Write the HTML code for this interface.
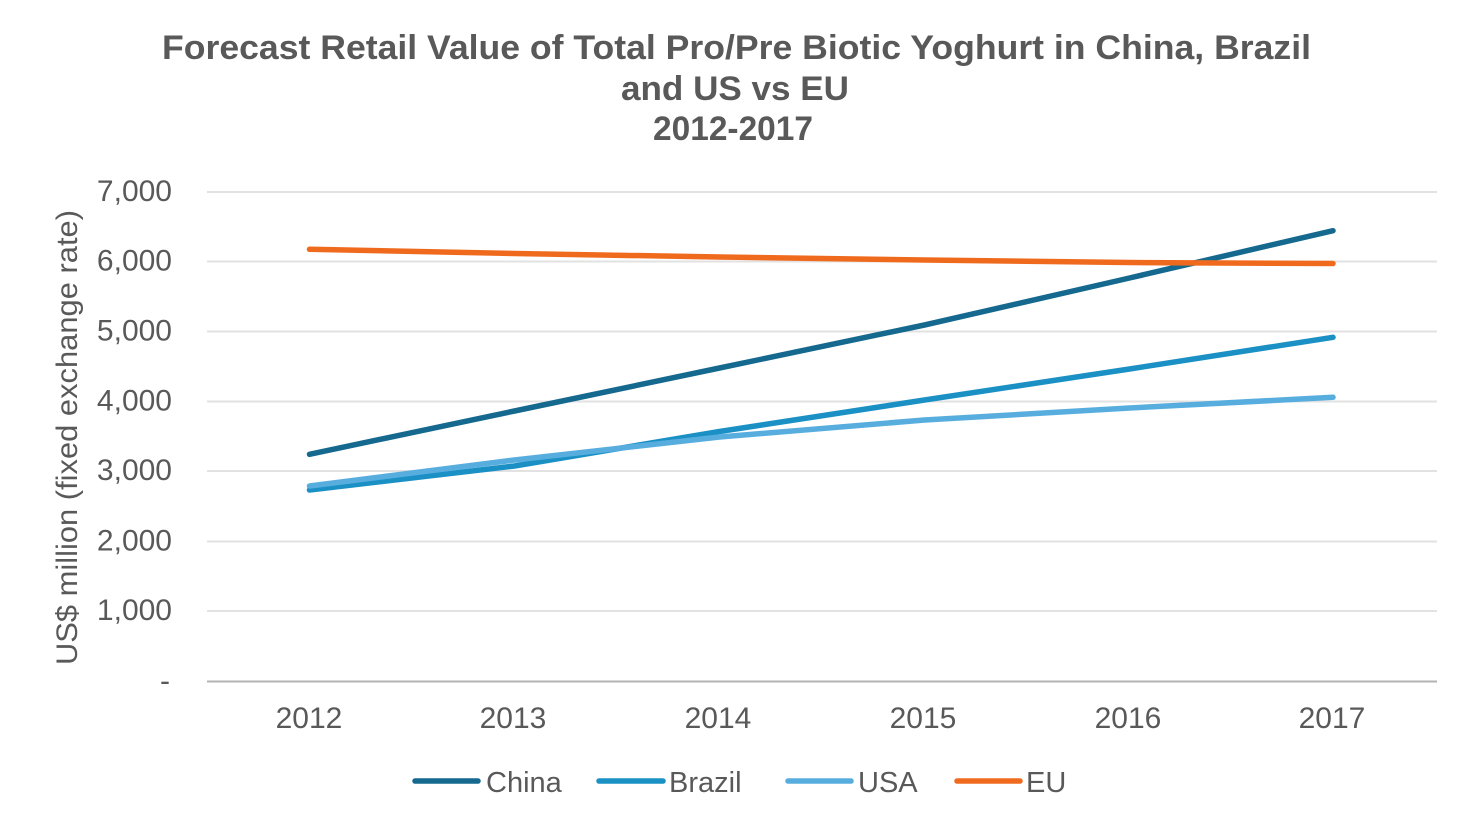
<!DOCTYPE html>
<html>
<head>
<meta charset="utf-8">
<style>
html,body{margin:0;padding:0;background:#fff;}
svg{display:block;}
text{font-family:"Liberation Sans",Arial,sans-serif;fill:#595959;}
</style>
</head>
<body>
<svg width="1473" height="831" viewBox="0 0 1473 831" xmlns="http://www.w3.org/2000/svg">
<rect width="1473" height="831" fill="#fff"/>
<!-- Title -->
<text x="736.5" y="59" font-size="34" font-weight="bold" text-anchor="middle" textLength="1149" lengthAdjust="spacingAndGlyphs">Forecast Retail Value of Total Pro/Pre Biotic Yoghurt in China, Brazil</text>
<text x="735" y="100" font-size="34" font-weight="bold" text-anchor="middle" textLength="228" lengthAdjust="spacingAndGlyphs">and US vs EU</text>
<text x="733" y="140" font-size="34" font-weight="bold" text-anchor="middle" textLength="160" lengthAdjust="spacingAndGlyphs">2012-2017</text>

<!-- Gridlines -->
<g stroke="#e2e2e2" stroke-width="2">
<line x1="207" y1="192" x2="1437" y2="192"/>
<line x1="207" y1="261.5" x2="1437" y2="261.5"/>
<line x1="207" y1="331.5" x2="1437" y2="331.5"/>
<line x1="207" y1="401.5" x2="1437" y2="401.5"/>
<line x1="207" y1="471" x2="1437" y2="471"/>
<line x1="207" y1="541.5" x2="1437" y2="541.5"/>
<line x1="207" y1="611" x2="1437" y2="611"/>
</g>
<line x1="207" y1="681.5" x2="1437" y2="681.5" stroke="#b3b3b3" stroke-width="2"/>

<!-- Y tick labels -->
<g font-size="30" text-anchor="end">
<text x="172" y="201">7,000</text>
<text x="172" y="270.5">6,000</text>
<text x="172" y="340.5">5,000</text>
<text x="172" y="410.5">4,000</text>
<text x="172" y="480">3,000</text>
<text x="172" y="550.5">2,000</text>
<text x="172" y="620">1,000</text>
<text x="170" y="690.5">-</text>
</g>

<!-- Y axis title -->
<text x="77" y="437.5" font-size="30" text-anchor="middle" transform="rotate(-90 77 437.5)" textLength="455" lengthAdjust="spacingAndGlyphs">US$ million (fixed exchange rate)</text>

<!-- X tick labels -->
<g font-size="30" text-anchor="middle">
<text x="309" y="728">2012</text>
<text x="513" y="728">2013</text>
<text x="718" y="728">2014</text>
<text x="923" y="728">2015</text>
<text x="1128" y="728">2016</text>
<text x="1332" y="728">2017</text>
</g>

<!-- Series -->
<g fill="none" stroke-width="5.5" stroke-linecap="round" stroke-linejoin="round">
<polyline stroke="#15698f" points="309.5,454.3 514.5,411 719.5,368 924.5,325 1129.5,278 1333,230.7"/>
<polyline stroke="#1a90c4" points="309.5,490 514.5,466 719.5,431.5 924.5,400 1129.5,369 1333,337.3"/>
<polyline stroke="#58addf" points="309.5,486 514.5,460 719.5,437 924.5,420 1129.5,408 1333,397.3"/>
<polyline stroke="#f06a1e" points="309.5,249.3 514.5,253.5 719.5,257 924.5,260 1129.5,262.5 1333,263.5"/>
</g>

<!-- Legend -->
<g stroke-width="5.5" stroke-linecap="round">
<line x1="415" y1="781" x2="478" y2="781" stroke="#15698f"/>
<line x1="599" y1="781" x2="663" y2="781" stroke="#1a90c4"/>
<line x1="788" y1="781" x2="851" y2="781" stroke="#58addf"/>
<line x1="957" y1="781" x2="1020" y2="781" stroke="#f06a1e"/>
</g>
<g font-size="29">
<text x="486" y="792">China</text>
<text x="669" y="792">Brazil</text>
<text x="858" y="792">USA</text>
<text x="1026" y="792">EU</text>
</g>
</svg>
</body>
</html>
